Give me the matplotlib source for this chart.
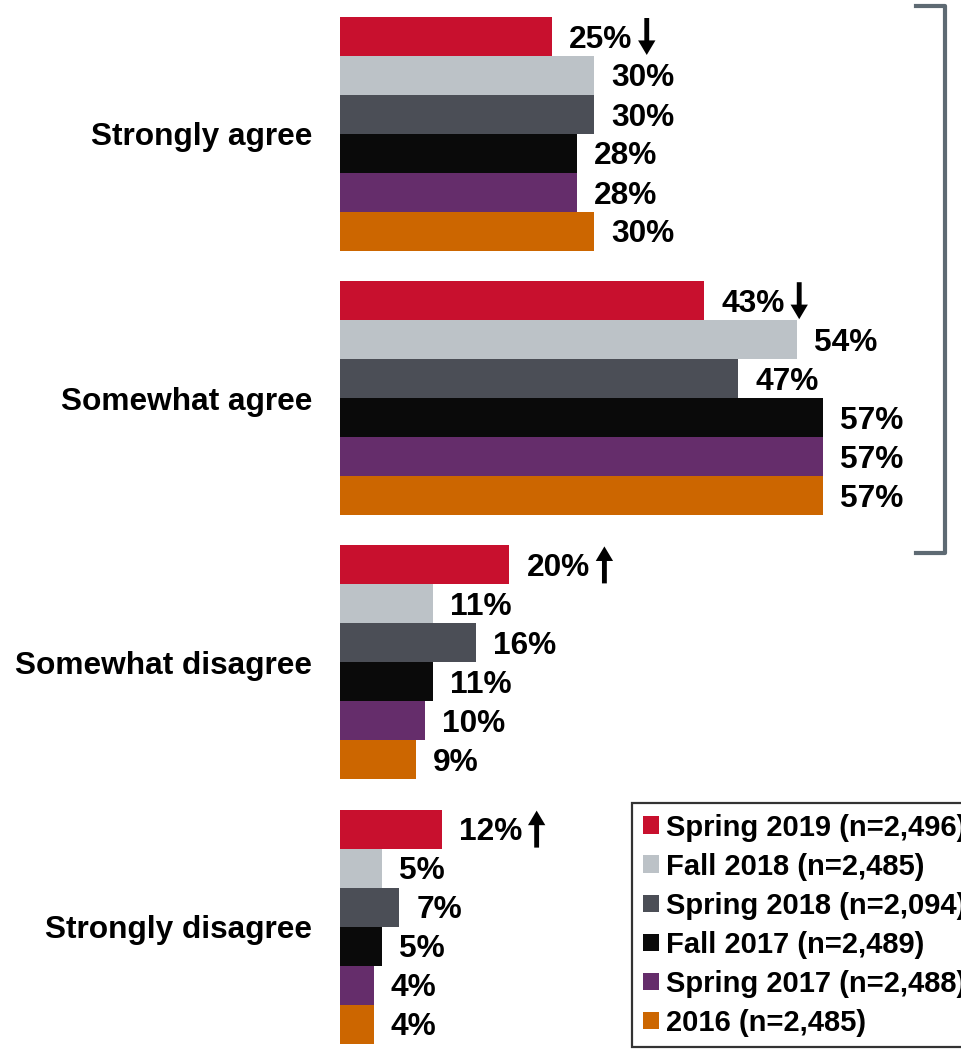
import matplotlib
matplotlib.use("Agg")
import matplotlib.pyplot as plt
import matplotlib.transforms as mtransforms
from matplotlib.patches import Patch
from matplotlib.lines import Line2D
import numpy as np

plt.rcParams['font.family'] = ['Liberation Sans', 'DejaVu Sans']

categories = ["Strongly agree", "Somewhat agree", "Somewhat disagree", "Strongly disagree"]
series = ["Spring 2019 (n=2,496)", "Fall 2018 (n=2,485)", "Spring 2018 (n=2,094)",
          "Fall 2017 (n=2,489)", "Spring 2017 (n=2,488)", "2016 (n=2,485)"]
spring2019 = [25, 43, 20, 12]
fall2018 = [30, 54, 11, 5]
spring2018 = [30, 47, 16, 7]
fall2017 = [28, 57, 11, 5]
spring2017 = [28, 57, 10, 4]
y2016 = [30, 57, 9, 4]
# significance arrows for Spring 2019: -1 down, +1 up
spring2019_change = [-1, -1, 1, 1]

values = [spring2019, fall2018, spring2018, fall2017, spring2017, y2016]
colors = ["#C8102E", "#BCC2C7", "#4B4E56", "#0A0A0A", "#652D6B", "#CC6600"]

W, H = 961, 1053
fig = plt.figure(figsize=(W / 100, H / 100), dpi=100)
ax = fig.add_axes([340 / W, 0, (W - 340) / W, 1])

px_per_unit = 8.47
ax.set_xlim(0, (W - 340) / px_per_unit)
pitch = 264.2
ax.set_ylim((H - 134) / pitch, -134 / pitch)

bar_h = 39 / pitch
n = len(series)
y = np.arange(len(categories))
FS = 22.8
label_off = mtransforms.offset_copy(ax.transData, fig=fig, x=17, y=-3, units='dots')
arrow_off = mtransforms.offset_copy(ax.transData, fig=fig, x=95, y=0, units='dots')

for i, (vals, col, name) in enumerate(zip(values, colors, series)):
    ypos = y + (i - (n - 1) / 2) * bar_h
    ax.barh(ypos, vals, height=bar_h, color=col, label=name, edgecolor='none')
    for yy, v in zip(ypos, vals):
        ax.text(v, yy, f"{v}%", transform=label_off, ha='left', va='center',
                fontsize=FS, fontweight='bold', color='black')
    if i == 0:
        for yy, v, ch in zip(ypos, vals, spring2019_change):
            half = 0.07
            if ch < 0:
                start, end = yy - half, yy + half
            else:
                start, end = yy + half, yy - half
            ax.annotate('', xy=(v, end), xytext=(v, start), xycoords=arrow_off,
                        textcoords=arrow_off,
                        arrowprops=dict(width=3.5, headwidth=12.5, headlength=10.5,
                                        facecolor='black', edgecolor='none', shrink=0))

ax.set_yticks(y)
ax.set_yticklabels(categories, fontsize=FS, fontweight='bold')
ax.tick_params(axis='y', length=0, pad=20)
ax.set_xticks([])
for s in ax.spines.values():
    s.set_visible(False)

# bracket
bx0, bx1, by0, by1 = 916, 945, 6, 553
br = Line2D([bx0 / W, bx1 / W, bx1 / W, bx0 / W],
            [1 - by0 / H, 1 - by0 / H, 1 - by1 / H, 1 - by1 / H],
            transform=fig.transFigure, color="#5E6A73", lw=3, solid_joinstyle='round')
fig.add_artist(br)

handles = [Patch(facecolor=c, edgecolor='none') for c in colors]
leg = fig.legend(handles, series, loc='upper left',
                 bbox_to_anchor=(632 / W, 1 - 803 / H), bbox_transform=fig.transFigure,
                 prop={'size': 21, 'weight': 'bold'}, frameon=True, fancybox=False,
                 edgecolor='black', handlelength=0.55, handleheight=0.55,
                 handletextpad=0.25, labelspacing=0.38, borderpad=0.36, borderaxespad=0)
leg.get_frame().set_linewidth(1.6)

fig.savefig("out.png", dpi=100)
